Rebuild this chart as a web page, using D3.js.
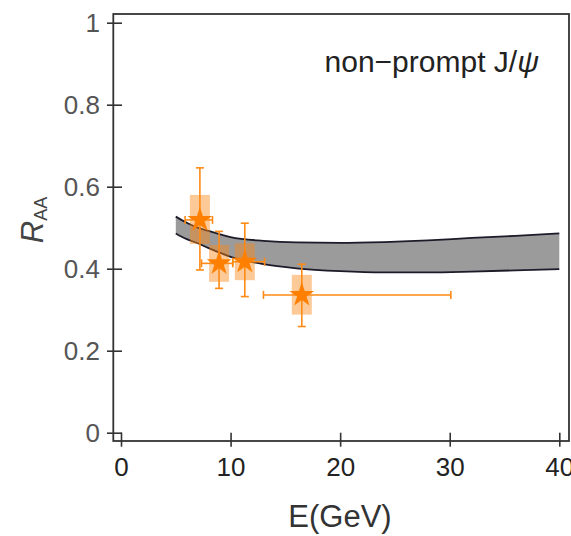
<!DOCTYPE html>
<html>
<head>
<meta charset="utf-8">
<script src="https://cdn.jsdelivr.net/npm/d3@7"></script>
<style>
  body { margin: 0; background: #fff; }
  svg { display: block; font-family: "Liberation Sans", Arial, sans-serif; }
</style>
</head>
<body>
<div id="chart"></div>
<script>
// theory band (gray) : energy, upper and lower edge
const bandE     = [5, 6, 7, 8, 10, 13, 16, 20, 24, 28, 32, 36, 40];
const bandUpper = [0.527, 0.512, 0.500, 0.492, 0.477, 0.468, 0.464, 0.463, 0.465, 0.469, 0.475, 0.480, 0.486];
const bandLower = [0.486, 0.472, 0.462, 0.450, 0.429, 0.411, 0.401, 0.394, 0.391, 0.391, 0.393, 0.396, 0.399];

// data points (orange stars)
const pointE    = [7.2, 8.95, 11.3, 16.5];
const pointR    = [0.519, 0.413, 0.417, 0.336];
const errLow    = [0.397, 0.352, 0.332, 0.259];
const errHigh   = [0.646, 0.491, 0.511, 0.411];
const eLow      = [5.85, 7.35, 10.2, 13.0];
const eHigh     = [8.35, 10.2, 13.1, 30.1];
const sysLow    = [0.460, 0.368, 0.372, 0.288];
const sysHigh   = [0.580, 0.458, 0.462, 0.385];

const xTicks = [0, 10, 20, 30, 40];
const yTicks = [0, 0.2, 0.4, 0.6, 0.8, 1];

const W = 571, H = 536;
const frame = {left: 113.3, right: 569, top: 14, bottom: 441};

const svg = d3.select("#chart").append("svg")
    .attr("width", W).attr("height", H);

const x = d3.scaleLinear().domain([0, 40]).range([121, 559.3]);
const y = d3.scaleLinear().domain([0, 1]).range([432.7, 22.7]);

// band
const band = bandE.map((e, i) => ({e: e, lo: bandLower[i], hi: bandUpper[i]}));
svg.append("path")
    .datum(band)
    .attr("d", d3.area().curve(d3.curveMonotoneX)
        .x(d => x(d.e)).y0(d => y(d.lo)).y1(d => y(d.hi)))
    .attr("fill", "#9b9b9b");
["hi", "lo"].forEach(k => {
    svg.append("path")
        .datum(band)
        .attr("d", d3.line().curve(d3.curveMonotoneX)
            .x(d => x(d.e)).y(d => y(d[k])))
        .attr("fill", "none")
        .attr("stroke", "#1e1a2a")
        .attr("stroke-width", 1.8);
});

// data
const pts = pointE.map((e, i) => ({
    e: e, r: pointR[i], rl: errLow[i], rh: errHigh[i],
    el: eLow[i], eh: eHigh[i], sl: sysLow[i], sh: sysHigh[i]
}));
const orange = "#ff8a14";
const boxW = 20, cap = 4;

svg.append("g").selectAll("rect")
    .data(pts).enter().append("rect")
    .attr("x", d => x(d.e) - boxW / 2)
    .attr("width", boxW)
    .attr("y", d => y(d.sh))
    .attr("height", d => y(d.sl) - y(d.sh))
    .attr("fill", "rgba(250,135,25,0.45)");

const eb = svg.append("g")
    .attr("stroke", orange)
    .attr("stroke-width", 1.6)
    .attr("fill", "none");
pts.forEach(d => {
    eb.append("line").attr("x1", x(d.e)).attr("x2", x(d.e))
        .attr("y1", y(d.rl)).attr("y2", y(d.rh));
    eb.append("line").attr("x1", x(d.el)).attr("x2", x(d.eh))
        .attr("y1", y(d.r)).attr("y2", y(d.r));
    [d.rl, d.rh].forEach(v => eb.append("line")
        .attr("x1", x(d.e) - cap).attr("x2", x(d.e) + cap)
        .attr("y1", y(v)).attr("y2", y(v)));
    [d.el, d.eh].forEach(v => eb.append("line")
        .attr("x1", x(v)).attr("x2", x(v))
        .attr("y1", y(d.r) - cap).attr("y2", y(d.r) + cap));
});

svg.append("g").selectAll("path")
    .data(pts).enter().append("path")
    .attr("d", d3.symbol().type(d3.symbolStar).size(190))
    .attr("transform", d => `translate(${x(d.e)},${y(d.r)})`)
    .attr("fill", "#ff8000");

// frame
svg.append("rect")
    .attr("x", frame.left).attr("y", frame.top)
    .attr("width", frame.right - frame.left)
    .attr("height", frame.bottom - frame.top)
    .attr("fill", "none")
    .attr("stroke", "#333")
    .attr("stroke-width", 1.8);

// axes
const yAxis = svg.append("g")
    .attr("transform", "translate(122,0)")
    .call(d3.axisLeft(y).tickValues(yTicks).tickFormat(d3.format("~g"))
        .tickSize(15).tickPadding(7));
const xAxis = svg.append("g")
    .attr("transform", "translate(0,432.7)")
    .call(d3.axisBottom(x).tickValues(xTicks).tickSize(14).tickPadding(11));
[yAxis, xAxis].forEach(a => {
    a.select(".domain").remove();
    a.selectAll(".tick line").attr("stroke", "#333").attr("stroke-width", 1.6);
    a.selectAll("text").attr("font-family", "Liberation Sans, Arial, sans-serif")
        .attr("font-size", 26);
});
yAxis.selectAll("text").attr("fill", "#555");
xAxis.selectAll("text").attr("fill", "#222");

// axis titles
svg.append("text")
    .attr("x", 340).attr("y", 527)
    .attr("text-anchor", "middle")
    .attr("font-size", 31)
    .attr("fill", "#333")
    .text("E(GeV)");

const yl = svg.append("text")
    .attr("transform", "translate(43,220) rotate(-90)")
    .attr("text-anchor", "middle")
    .attr("fill", "#444");
yl.append("tspan").attr("font-size", 31).attr("font-style", "italic").text("R");
yl.append("tspan").attr("font-size", 18).attr("dy", 4).text("AA");

// label
const lab = svg.append("text")
    .attr("x", 539).attr("y", 72)
    .attr("text-anchor", "end")
    .attr("font-size", 30)
    .attr("fill", "#222");
lab.append("tspan").text("non\u2212prompt J/");
lab.append("tspan").attr("font-style", "italic").text("\u03c8");
</script>
</body>
</html>
